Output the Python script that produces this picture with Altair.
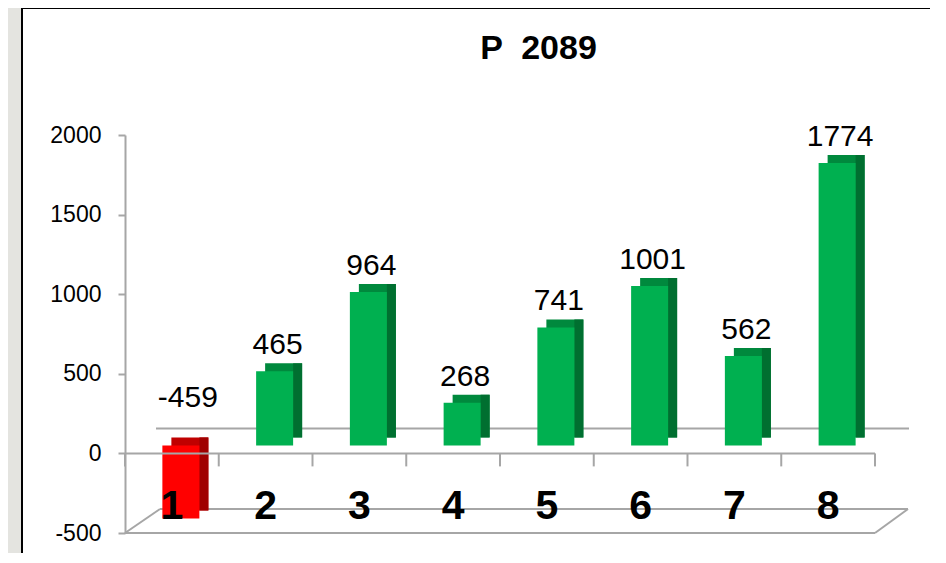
import altair as alt
import pandas as pd

categories = ["1", "2", "3", "4", "5", "6", "7", "8"]
values = [-459, 465, 964, 268, 741, 1001, 562, 1774]
title_text = "P \u00a02089"
y_ticks = [-500, 0, 500, 1000, 1500, 2000]

df = pd.DataFrame({"cat": categories, "value": values})
df["lab"] = [str(v) for v in values]

W, H = 785, 398
GRAY = "#A6A6A6"
FONT = "Liberation Sans"

xs = alt.Scale(domain=categories, paddingInner=0, paddingOuter=0.1867, align=0)
ys = alt.Scale(domain=[-500, 2000], nice=False, zero=False)

X = alt.X("cat:N", scale=xs, sort=categories,
          axis=alt.Axis(title=None, domain=False, ticks=False, labelAngle=0, zindex=2,
                        labelFont=FONT, labelFontSize=41, labelFontWeight="bold",
                        labelColor="black", labelPadding=-15, labelBaseline="alphabetic",
                        labelOverlap=False, labelFlush=False, labelBound=False))
Y = alt.Y("value:Q", scale=ys,
          axis=alt.Axis(title=None, values=y_ticks, grid=False, domainColor=GRAY, zindex=1,
                        domainWidth=2, tickColor=GRAY, tickWidth=2, tickSize=7,
                        labelPadding=17, labelFont=FONT, labelFontSize=23,
                        labelExpr="'' + datum.value", labelColor="black"))

base = alt.Chart(df)

# frame background
frame = base.mark_rect(fill="white", stroke="black", strokeWidth=2, clip=False).encode(
    x=alt.value(-103), x2=alt.value(900), y=alt.value(-127), y2=alt.value(600)
).transform_filter(alt.datum.cat == "1")

line_base = alt.Chart(pd.DataFrame({"k": [0]}))
lstyle = dict(color=GRAY, strokeWidth=2)

back_zero = line_base.mark_rule(yOffset=-25, **lstyle).encode(
    y=alt.datum(0, scale=ys), x=alt.value(31), x2=alt.value(784))
floor_front = line_base.mark_rule(**lstyle).encode(
    y=alt.value(H), x=alt.value(0), x2=alt.value(750))
floor_back = line_base.mark_rule(**lstyle).encode(
    y=alt.value(H - 24), x=alt.value(35), x2=alt.value(783))
floor_left = line_base.mark_rule(**lstyle).encode(
    x=alt.value(0), y=alt.value(H), x2=alt.value(35), y2=alt.value(H - 24))
floor_right = line_base.mark_rule(**lstyle).encode(
    x=alt.value(750), y=alt.value(H), x2=alt.value(783), y2=alt.value(H - 24))

front_zero = line_base.mark_rule(**lstyle).encode(
    y=alt.datum(0, scale=ys), x=alt.value(0), x2=alt.value(750))
ticks_a = base.mark_rule(y2Offset=13, **lstyle).encode(
    x=alt.X("cat:N", scale=xs, sort=categories, bandPosition=0),
    y=alt.datum(0, scale=ys), y2=alt.datum(0))
ticks_b = base.transform_filter(alt.datum.cat == "8").mark_rule(y2Offset=13, **lstyle).encode(
    x=alt.X("cat:N", scale=xs, sort=categories, bandPosition=1),
    y=alt.datum(0, scale=ys), y2=alt.datum(0))

neg = alt.datum.value < 0
col_front = alt.condition(neg, alt.value("#FF0000"), alt.value("#00B050"))
col_top = alt.condition(neg, alt.value("#C00000"), alt.value("#00893D"))
col_side = alt.condition(neg, alt.value("#A00000"), alt.value("#006F30"))

top_face = base.mark_bar(size=37, xOffset=18, yOffset=-16, y2Offset=-16).encode(
    x=X, y=Y, y2=alt.datum(0), color=col_top)
side_face = base.mark_bar(size=9, xOffset=32, yOffset=-16, y2Offset=-16).encode(
    x=X, y=Y, y2=alt.datum(0), color=col_side)
front_face = base.mark_bar(size=37, xOffset=9, yOffset=-8, y2Offset=-8).encode(
    x=X, y=Y, y2=alt.datum(0), color=col_front)

lab_pos = base.transform_filter(alt.datum.value >= 0).mark_text(
    font=FONT, fontSize=30, color="black", baseline="alphabetic", dx=12, dy=-25).encode(
    x=X, y=Y, text="lab:N")
lab_neg = base.transform_filter(alt.datum.value < 0).mark_text(
    font=FONT, fontSize=30, color="black", baseline="alphabetic", dx=16, dy=-46).encode(
    x=X, y=alt.datum(0, scale=ys), text="lab:N")

chart = alt.layer(
    frame, back_zero, floor_front, floor_back, floor_left, floor_right,
    top_face, side_face, front_face, front_zero, ticks_a, ticks_b, lab_pos, lab_neg
).properties(
    width=W, height=H,
    title=alt.Title(title_text, font=FONT, fontSize=34, fontWeight="bold", color="black",
                    anchor="middle", dx=21, offset=-86, baseline="alphabetic"),
    autosize=alt.AutoSizeParams(type="none"),
    padding={"left": 117, "top": 127, "right": 20, "bottom": 20},
    background="#E4E4E0",
).configure_view(stroke=None)

chart.save("out.html", embed_options={"renderer": "svg", "actions": False})
